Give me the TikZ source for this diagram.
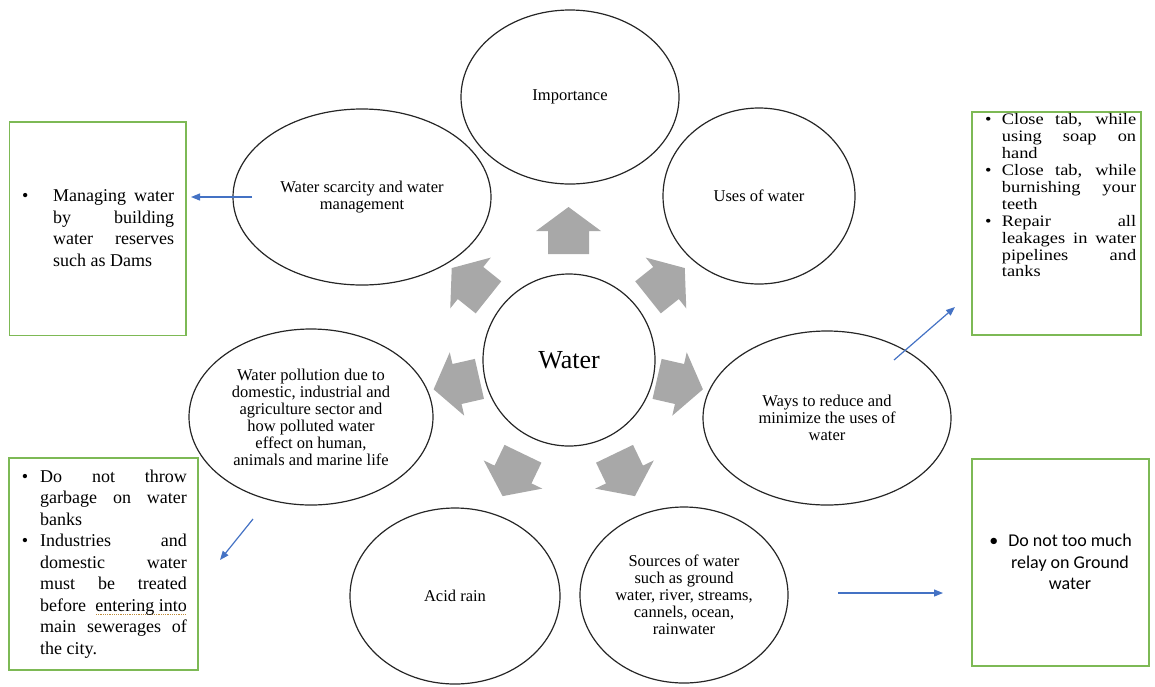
\documentclass[tikz,border=0pt]{standalone}
\usepackage{fontspec}
\setmainfont{Liberation Serif}
\newfontfamily\widefont{Liberation Serif}[FakeStretch=1.15]
\newfontfamily\calibrifont{Carlito}
\usetikzlibrary{shapes.geometric,arrows.meta}

\definecolor{boxgreen}{RGB}{125,185,85}
\definecolor{linkblue}{RGB}{68,114,196}
\definecolor{blockgray}{RGB}{168,168,168}
\definecolor{spellmark}{RGB}{190,140,60}

% keep the baseline distance fixed even for tall lines
\newcommand\tightlines{\lineskiplimit=-50pt\relax}
% one bulleted paragraph with a hanging indent
\newcommand\bulletpar[2]{%
  \ifhmode\else\noindent\fi
  \hangindent=#1\hangafter=1\makebox[#1][l]{\textbullet}#2\par}
% dotted grammar-check underline
\newsavebox\grammarbox
\newcommand\grammarline[1]{%
  \sbox\grammarbox{#1}%
  \rlap{\textcolor{spellmark}{\raisebox{-3.5pt}{\hbox to \wd\grammarbox{%
    \xleaders\hbox{\kern0.5pt\rule{1.2pt}{1.2pt}\kern0.5pt}\hfil}}}}%
  \usebox\grammarbox}

\tikzset{
  bubble/.style={ellipse, draw=black!85, line width=1.2pt, inner sep=0pt,
    align=center, font=\fontsize{16.5}{17}\selectfont},
  hub/.style={circle, draw=black!85, line width=1.2pt, inner sep=0pt,
    minimum size=172pt, font=\fontsize{26}{30}\selectfont},
  greenbox/.style={rectangle, draw=boxgreen, line width=1.5pt, inner sep=0pt},
  boxtext/.style={inner sep=0pt, anchor=north west, align=justify},
  link/.style={draw=linkblue, line width=1.2pt, -{Triangle[length=9pt,width=7pt]}},
  pics/grayarrow/.style={code={
    \fill[blockgray] (-23,-20.5) -- (0,-20.5) -- (0,-32.5) -- (24,0)
      -- (0,32.5) -- (0,20.5) -- (-23,20.5) -- cycle;}}
}

\begin{document}
\begin{tikzpicture}[x=1pt,y=-1pt]
\useasboundingbox (0,0) rectangle (1155,686);

% central topic and the seven themes around it
\node[hub] (water) at (569,360) {Water};
\node[bubble, minimum width=218pt, minimum height=174pt] (imp) at (570,97) {Importance};
\node[bubble, minimum width=192pt, minimum height=176pt] (uses) at (759,196) {Uses of water};
\node[bubble, minimum width=248pt, minimum height=174pt] (ways) at (827,418)
  {Ways to reduce and\\minimize the uses of\\water};
\node[bubble, minimum width=208pt, minimum height=176pt] (src) at (684,595)
  {Sources of water\\such as ground\\water, river, streams,\\cannels, ocean,\\rainwater};
\node[bubble, minimum width=210pt, minimum height=176pt] (acid) at (455,596) {Acid rain};
\node[bubble, minimum width=244pt, minimum height=176pt] (poll) at (311,417)
  {Water pollution due to\\domestic, industrial and\\agriculture sector and\\how polluted water\\effect on human,\\animals and marine life};
\node[bubble, minimum width=258pt, minimum height=176pt] (scar) at (362,197)
  {Water scarcity and water\\management};

% block arrows radiating from the centre
\pic[rotate=90] at (568.5,231) {grayarrow};
\pic[rotate=38.57] at (666,283) {grayarrow};
\pic[rotate=-12.86] at (679.5,384) {grayarrow};
\pic[rotate=-64.29] at (624.5,474.5) {grayarrow};
\pic[rotate=-115.71] at (513,474.5) {grayarrow};
\pic[rotate=-167.14] at (457,384) {grayarrow};
\pic[rotate=141.43] at (470.5,283) {grayarrow};

% note boxes
\node[greenbox, minimum width=176.5pt, minimum height=213.5pt] (b1) at (97.75,228.75) {};
\node[greenbox, minimum width=169pt, minimum height=223pt] (b2) at (1056.5,223.5) {};
\node[greenbox, minimum width=189pt, minimum height=212pt] (b3) at (103.5,564) {};
\node[greenbox, minimum width=177pt, minimum height=207pt] (b4) at (1060.5,562.5) {};

\node[boxtext, text width=152pt,
      font={\fontsize{18}{21.5}\selectfont\tightlines}] (t1) at (22,189.5)
  {\bulletpar{31pt}{Managing water\linebreak by building\linebreak water reserves\linebreak such as Dams}};

\node[boxtext, text width=151pt,
      font={\widefont\fontsize{16}{16.9}\selectfont\tightlines}] (t2) at (985,113.5)
  {\bulletpar{16.7pt}{Close tab, while\linebreak using soap on\linebreak hand}%
   \bulletpar{16.7pt}{Close tab, while\linebreak burnishing your\linebreak teeth}%
   \bulletpar{16.7pt}{Repair all\linebreak leakages in water\linebreak pipelines and\linebreak tanks}};

\node[boxtext, text width=165pt,
      font={\fontsize{18}{21.5}\selectfont\tightlines}] (t3) at (21.7,469.7)
  {\bulletpar{18.3pt}{Do not throw\linebreak garbage on water\linebreak banks}%
   \bulletpar{18.3pt}{Industries and\linebreak domestic water\linebreak must be treated\linebreak before \grammarline{entering into}\linebreak main sewerages of\linebreak the city.}};

\node[inner sep=0pt, align=center, font=\calibrifont\fontsize{18}{21.7}\selectfont] (t4) at (1070,562)
  {\llap{\makebox[19pt][l]{\textbullet}}Do not too much\\relay on Ground\\water};

% connectors from the themes to their notes
\coordinate (s1) at (252,197);   \coordinate (e1) at (191,197);
\coordinate (s2) at (894,360);   \coordinate (e2) at (955,307);
\coordinate (s3) at (253,519);   \coordinate (e3) at (220,560);
\coordinate (s4) at (838,593);   \coordinate (e4) at (943,593);
\draw[link] (s1) -- (e1);
\draw[link] (s2) -- (e2);
\draw[link] (s3) -- (e3);
\draw[link] (s4) -- (e4);
\end{tikzpicture}
\end{document}
